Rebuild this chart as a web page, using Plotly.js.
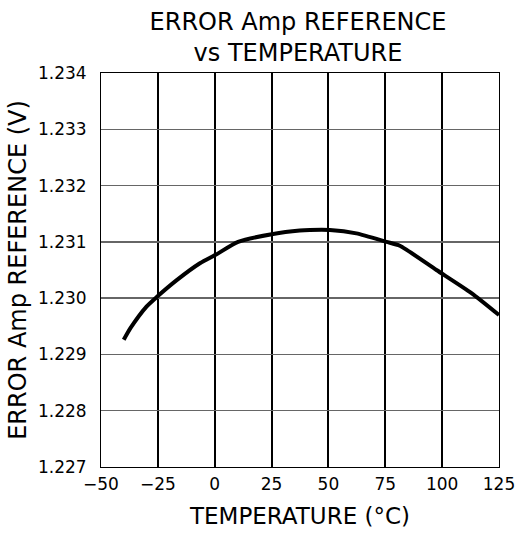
<!DOCTYPE html>
<html>
<head>
<meta charset="utf-8">
<script src="https://cdn.plot.ly/plotly-3.0.1.min.js"></script>
<style>html,body{margin:0;padding:0;background:#fff;}#chart{width:517px;height:537px;}</style>
</head>
<body>
<div id="chart"></div>
<script>
const temperature = [-40, -37, -30, -25.5, -16.7, -6.5, 0.8, 10.3, 25.7, 37.4, 41.8, 50.6, 62.3, 75.5, 81.4, 97.5, 112.9, 125];
const reference   = [1.22926, 1.22947, 1.22985, 1.23002, 1.23032, 1.23062, 1.23078, 1.23100, 1.23114, 1.23120, 1.23121, 1.23121, 1.23115, 1.23100, 1.23093, 1.23050, 1.23009, 1.22970];
const xTicks = [-50, -25, 0, 25, 50, 75, 100, 125];
const yTicks = [1.227, 1.228, 1.229, 1.230, 1.231, 1.232, 1.233, 1.234];

const font = 'DejaVu Sans, sans-serif';
Plotly.newPlot('chart', [{
  x: temperature, y: reference, mode: 'lines', type: 'scatter',
  line: {color: '#000', width: 4, shape: 'spline', smoothing: 0.6},
  hoverinfo: 'skip'
}], {
  width: 517, height: 537,
  margin: {l: 101, r: 18, t: 73, b: 70},
  paper_bgcolor: '#fff', plot_bgcolor: '#fff',
  showlegend: false,
  title: {text: 'ERROR Amp REFERENCE<br>vs TEMPERATURE', font: {family: font, size: 24, color: '#000'},
          x: 0.495, xanchor: 'center', xref: 'paper', yref: 'container', y: 0.945, yanchor: 'top'},
  xaxis: {
    range: [-50, 125], tickvals: xTicks, ticks: '', ticklabelstandoff: 2,
    showgrid: true, gridcolor: '#000', gridwidth: 2,
    showline: true, linecolor: '#000', linewidth: 1, mirror: true, zeroline: false,
    tickfont: {family: font, size: 17, color: '#000'},
    title: {text: 'TEMPERATURE (°C)', font: {family: font, size: 23, color: '#000'}, standoff: 14}
  },
  yaxis: {
    range: [1.227, 1.234], tickvals: yTicks, tickformat: '.3f', ticks: '', ticklabelstandoff: 10,
    showgrid: true, gridcolor: '#666', gridwidth: 1.5,
    showline: true, linecolor: '#000', linewidth: 1, mirror: true, zeroline: false,
    tickfont: {family: font, size: 17, color: '#000'},
    title: {text: 'ERROR Amp REFERENCE (V)', font: {family: font, size: 24, color: '#000'}, standoff: 4}
  }
}, {displayModeBar: false, staticPlot: true});
</script>
</body>
</html>
